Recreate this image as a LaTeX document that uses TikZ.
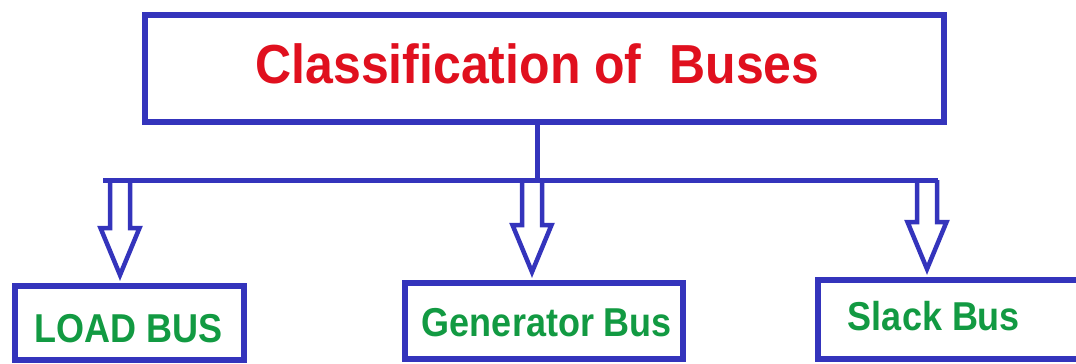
\documentclass[tikz,border=0pt]{standalone}
\usepackage{fontspec}
\setmainfont{Liberation Sans}
\usetikzlibrary{calc}
\definecolor{busblue}{HTML}{3434BC}
\definecolor{titlered}{HTML}{E0101E}
\definecolor{labelgreen}{HTML}{129A42}
\tikzset{
  framebox/.style={draw=busblue, line width=6pt, fill=white, inner sep=0pt, outer sep=0pt},
  titletext/.style={text=titlered, font=\bfseries\fontsize{50}{50}\selectfont, inner sep=0pt, anchor=base},
  bustext/.style={text=labelgreen, font=\bfseries\fontsize{36}{36}\selectfont, inner sep=0pt, anchor=base},
  busline/.style={draw=busblue, line width=5pt},
  arrowline/.style={draw=busblue, line width=4.5pt, fill=white, line join=miter}
}
% hollow block arrow from a point on the bus bar (#1) down to its tip (#2)
\newcommand\hollowarrow[2]{%
  \path[arrowline] let \p1=(#1), \p2=(#2) in
    (\x1-10pt,\y1) -- (\x1-10pt,\y2+47pt) -- (\x1-19.5pt,\y2+47pt) -- (\x1,\y2)
    -- (\x1+19.5pt,\y2+47pt) -- (\x1+10pt,\y2+47pt) -- (\x1+10pt,\y1);}
\begin{document}
\begin{tikzpicture}[x=1pt,y=-1pt]
\useasboundingbox (0,0) rectangle (1076,364);
% boxes
\node[framebox, minimum width=799pt, minimum height=107pt] (top) at (544.5,68.5) {};
\node[framebox, minimum width=229pt, minimum height=74pt] (load) at (129.5,323) {};
\node[framebox, minimum width=278pt, minimum height=76pt] (gen) at (544,321) {};
\node[framebox, minimum width=282pt, minimum height=79pt] (slack) at (959,319.5) {};
% texts
\node[titletext] (title) at (537.5,83) {\scalebox{1}[1.1]{Classification of \ Buses}};
\node[bustext] (loadtxt) at (128.5,342) {\scalebox{1}[1.12]{LOAD BUS}};
\node[bustext] (gentxt) at (547,336.5) {\scalebox{1}[1.12]{Generator Bus}};
\node[bustext] (slacktxt) at (934,330) {\scalebox{1}[1.12]{Slack Bus}};
% bus bar junctions and arrow tips
\coordinate (stem) at (537,180);
\coordinate (barL) at (103,180);
\coordinate (barR) at (937.5,180);
\coordinate (jL) at (120,180);
\coordinate (jM) at (532,180);
\coordinate (jR) at (927,180);
\coordinate (tL) at ($(load.north -| jL)+(0,-11)$);
\coordinate (tM) at ($(gen.north -| jM)+(0,-11)$);
\coordinate (tR) at ($(slack.north -| jR)+(0,-11)$);
% arrows
\hollowarrow{jL}{tL}
\hollowarrow{jM}{tM}
\hollowarrow{jR}{tR}
% stem and bar
\draw[busline] (top.south -| stem) -- (stem);
\draw[busline] (barL) -- (barR);
\end{tikzpicture}
\end{document}
